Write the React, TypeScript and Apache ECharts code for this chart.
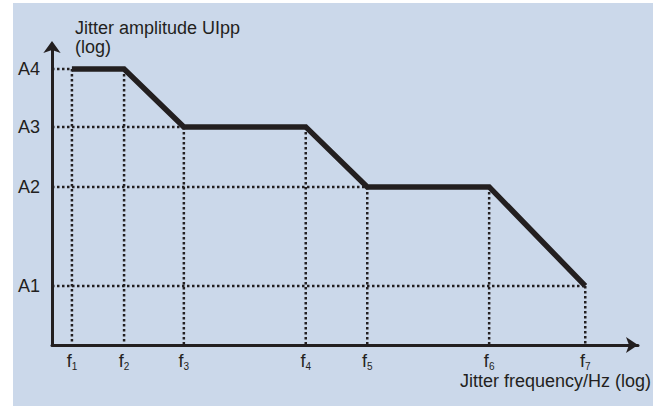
import React, { useEffect, useRef } from "react";
import * as echarts from "echarts";

// log-frequency positions (arbitrary log units)
const freqNames = ["1", "2", "3", "4", "5", "6", "7"];
const freqValues = [0.34, 1.23, 2.25, 4.33, 5.38, 7.46, 9.1];
// log-amplitude levels
const ampNames = ["A1", "A2", "A3", "A4"];
const ampValues = [1.97, 5.27, 7.27, 9.2];
// mask: amplitude level at each frequency point
const maskAmp = ["A4", "A4", "A3", "A3", "A2", "A2", "A1"];

const X_MAX = 10;
const Y_MAX = 10;
const INK = "#231f20";
const FONT = "'Liberation Sans', Arial, sans-serif";

export default function App() {
  const ref = useRef<HTMLDivElement>(null);
  useEffect(() => {
    if (!ref.current) return;
    const chart = echarts.init(ref.current, null, { renderer: "svg" });
    const ampOf = (n: string) => ampValues[ampNames.indexOf(n)];
    const mask = freqValues.map((f, i) => [f, ampOf(maskAmp[i])]);

    // dotted guides
    const guides: any[] = [];
    ampNames.forEach((a) => {
      const idx = maskAmp.indexOf(a);
      if (idx < 0) return;
      guides.push([0, ampOf(a)], [freqValues[idx], ampOf(a)], "-");
    });
    mask.forEach((p) => {
      guides.push([p[0], p[1]], [p[0], 0], "-");
    });

    chart.setOption({
      animation: false,
      backgroundColor: "#ffffff",
      graphic: [
        {
          type: "rect",
          z: -10,
          silent: true,
          shape: { x: 13, y: 3, width: 640, height: 403 },
          style: { fill: "#cbd8ea" },
        },
        {
          type: "text",
          z: 10,
          x: 75,
          y: 18,
          style: {
            text: "Jitter amplitude UIpp\n(log)",
            font: `18px ${FONT}`,
            fill: INK,
            lineHeight: 19,
          },
        },
        {
          type: "text",
          z: 10,
          x: 651,
          y: 372,
          style: {
            text: "Jitter frequency/Hz (log)",
            font: `18px ${FONT}`,
            fill: INK,
            align: "right",
          },
        },
      ],
      grid: { left: 52, right: 23, top: 45, bottom: 61 },
      xAxis: {
        type: "value",
        min: 0,
        max: X_MAX,
        splitLine: { show: false },
        axisTick: { show: false },
        axisLine: {
          show: true,
          symbol: ["none", "arrow"],
          symbolSize: [12, 12],
          lineStyle: { color: INK, width: 3 },
        },
        axisLabel: {
          customValues: freqValues,
          margin: 6,
          formatter: (v: number) => {
            const i = freqValues.indexOf(v);
            return i < 0 ? "" : `{f|f}{s|${freqNames[i]}}`;
          },
          rich: {
            f: { fontSize: 18, fontFamily: FONT, color: INK, lineHeight: 20 },
            s: {
              fontSize: 10,
              fontFamily: FONT,
              color: INK,
              lineHeight: 10,
              verticalAlign: "bottom",
            },
          },
        },
      },
      yAxis: {
        type: "value",
        min: 0,
        max: Y_MAX,
        splitLine: { show: false },
        axisTick: { show: false },
        axisLine: {
          show: true,
          symbol: ["none", "arrow"],
          symbolSize: [13, 12],
          symbolOffset: [0, 4],
          lineStyle: { color: INK, width: 3 },
        },
        axisLabel: {
          customValues: ampValues,
          margin: 12,
          fontSize: 18,
          fontFamily: FONT,
          color: INK,
          formatter: (v: number) => {
            const i = ampValues.indexOf(v);
            return i < 0 ? "" : ampNames[i];
          },
        },
      },
      series: [
        {
          type: "line",
          data: guides,
          symbol: "none",
          connectNulls: false,
          z: 1,
          lineStyle: { color: INK, width: 2.5, type: [2.5, 2.5] },
        },
        {
          type: "line",
          data: mask,
          symbol: "none",
          z: 3,
          lineStyle: { color: INK, width: 5.5, join: "miter" },
        },
      ],
    });
    return () => chart.dispose();
  }, []);
  return (
    <div
      ref={ref}
      style={{ position: "fixed", left: 0, top: 0, width: 661, height: 406 }}
    />
  );
}
